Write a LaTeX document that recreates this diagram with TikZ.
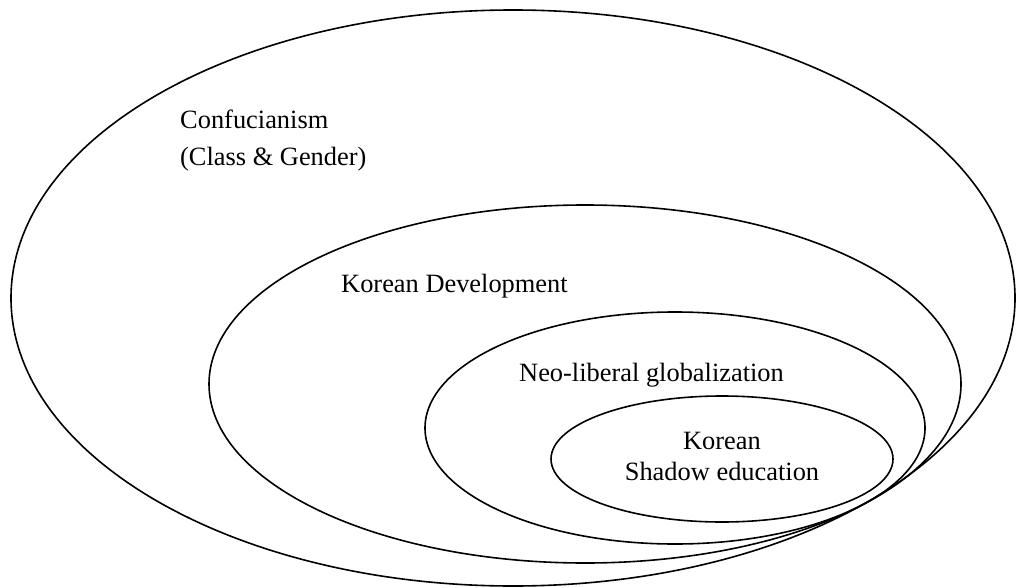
\documentclass[tikz,border=0pt]{standalone}
\usepackage{fontspec}
\setmainfont{Liberation Serif}
\begin{document}
\begin{tikzpicture}[x=1pt,y=-1pt,
  ring/.style={draw=black,line width=1.6pt},
  lab/.style={inner sep=0pt,anchor=base west,font=\fontsize{26.4}{30}\selectfont},
  clab/.style={inner sep=0pt,anchor=base,font=\fontsize{26.4}{30}\selectfont}]
\useasboundingbox (0,0) rectangle (1016,588);
\draw[ring] (513,298) ellipse [x radius=502, y radius=288];
\draw[ring] (585,384) ellipse [x radius=376, y radius=179];
\draw[ring] (675,428) ellipse [x radius=250, y radius=116];
\draw[ring] (722,459) ellipse [x radius=171, y radius=63];
\node[lab] (conf) at (180,129) {Confucianism};
\node[lab] (cg) at (180,166) {(Class \& Gender)};
\node[lab] (kd) at (341,292) {Korean Development};
\node[lab] (neo) at (519,381) {Neo-liberal globalization};
\node[clab] (kor) at (722,449) {Korean};
\node[clab] (sh) at (722,480) {Shadow education};
\end{tikzpicture}
\end{document}
